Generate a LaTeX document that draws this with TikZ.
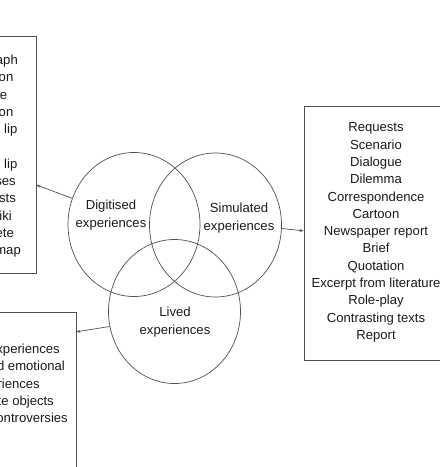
\documentclass[tikz,border=0pt]{standalone}
\usepackage{fontspec}
\setmainfont{Liberation Sans}
\usetikzlibrary{shapes.geometric,arrows.meta}
\definecolor{linegray}{HTML}{505050}
\definecolor{txt}{HTML}{1A1A1A}
\begin{document}
\begin{tikzpicture}[x=1pt,y=-1pt,
  every node/.style={text=txt,font=\fontsize{13.1}{17.3}\selectfont},
  venn/.style={ellipse,draw=linegray,line width=0.7pt,minimum width=132pt,minimum height=144pt,inner sep=0pt},
  listbox/.style={draw=linegray,line width=0.8pt,rectangle,inner sep=0pt},
  lbl/.style={align=center},
  frag/.style={anchor=base east,inner sep=0pt},
  conn/.style={draw=linegray,line width=0.7pt,-{Stealth[length=4pt,width=3pt]}}]
\clip (0,0) rectangle (440,467);
% boxes
\node[listbox,minimum width=136pt,minimum height=237pt] (tl) at (-32,154.5) {};
\node[listbox,minimum width=246pt,minimum height=254pt] (rb) at (427,233) {};
\node[listbox,minimum width=176pt,minimum height=188pt] (bl) at (-12,406) {};
% circles
\node[venn] (dig) at (134,224.5) {};
\node[venn] (sim) at (215.5,225) {};
\node[venn] (liv) at (174.5,311.5) {};
% circle labels
\node[lbl] (digl) at (111,215) {Digitised\\experiences};
\node[lbl] (siml) at (239,218) {Simulated\\experiences};
\node[lbl,font=\fontsize{13.1}{18.5}\selectfont] (livl) at (175,322) {Lived\\experiences};
% right list
\node[lbl] (rlist) at (376,232.5) {Requests\\Scenario\\Dialogue\\Dilemma\\Correspondence\\Cartoon\\Newspaper report\\Brief\\Quotation\\Excerpt from literature\\Role-play\\Contrasting texts\\Report};
% top-left fragments
\node[frag] (t1) at (18,64.5) {aph};
\node[frag] (t2) at (13.5,81.8) {on};
\node[frag] (t3) at (7.3,99.1) {e};
\node[frag] (t4) at (13.5,116.4) {on};
\node[frag] (t5) at (17.5,133.7) {lip};
\node[frag] (t7) at (17.5,168.3) {lip};
\node[frag] (t8) at (16,185.6) {ses};
\node[frag] (t9) at (16,202.9) {sts};
\node[frag] (t10) at (12,220.2) {iki};
\node[frag] (t11) at (14,237.5) {ete};
\node[frag] (t12) at (21,254.8) {map};
% bottom-left fragments
\node[frag] (b1) at (60,353.5) {xperiences};
\node[frag] (b2) at (65,370.8) {d emotional};
\node[frag] (b3) at (40,388.1) {riences};
\node[frag] (b4) at (54,405.4) {te objects};
\node[frag] (b5) at (68,422.7) {ontroversies};
% connectors
\draw[conn] (dig.157.6) -- (tl.-24.2);
\draw[conn] (sim.-3.5) -- (rb.179.5);
\draw[conn] (liv.193.5) -- (bl.40.25);
\end{tikzpicture}
\end{document}
